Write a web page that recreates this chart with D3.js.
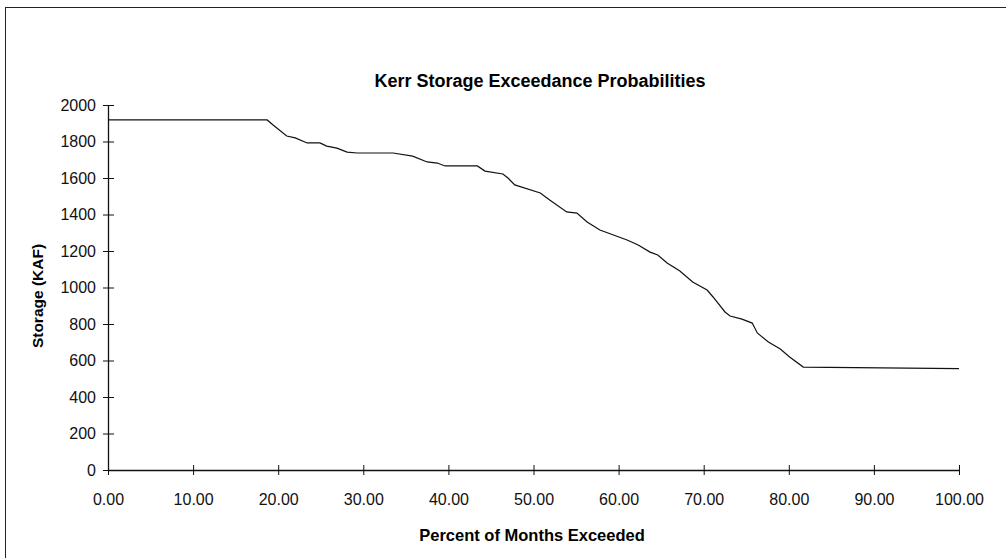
<!DOCTYPE html>
<html>
<head>
<meta charset="utf-8">
<script src="https://cdn.jsdelivr.net/npm/d3@7.9.0/dist/d3.min.js"></script>
<style>
  body { margin: 0; background: #fff; }
  svg { display: block; font-family: "Liberation Sans", Arial, sans-serif; }
</style>
</head>
<body>
<svg id="chart" width="1006" height="558"></svg>
<script>
// percent of months exceeded
const percents = [0, 18.7, 19.4, 21.0, 22.0, 23.4, 24.9, 25.7, 26.9, 28.1, 29.3, 33.5, 35.8, 37.5,
  38.7, 39.6, 43.4, 44.3, 46.4, 47.0, 47.8, 50.8, 51.9, 53.9, 55.1, 56.3, 57.8, 61.0, 62.3,
  63.7, 64.6, 65.7, 67.2, 68.7, 70.4, 71.1, 72.5, 73.1, 74.5, 75.7, 76.3, 77.6, 79.0, 80.1,
  81.7, 100];
// storage (KAF)
const storage = [1918, 1918, 1890, 1830, 1820, 1792, 1792, 1775, 1764, 1742, 1737, 1737, 1720, 1688,
  1682, 1666, 1666, 1638, 1622, 1600, 1562, 1518, 1479, 1414, 1408, 1359, 1315, 1260, 1233,
  1194, 1178, 1134, 1090, 1030, 986, 948, 866, 844, 827, 805, 751, 701, 663, 619,
  564, 556];
const xTicks = [0, 10, 20, 30, 40, 50, 60, 70, 80, 90, 100];
const yTicks = [0, 200, 400, 600, 800, 1000, 1200, 1400, 1600, 1800, 2000];

const svg = d3.select('#chart');

// outer frame
svg.append('rect')
  .attr('x', 5.5).attr('y', 7.5)
  .attr('width', 1010).attr('height', 560)
  .attr('fill', 'none').attr('stroke', '#222').attr('stroke-width', 1);

const x = d3.scaleLinear().domain([0, 100]).range([108, 959]);
const y = d3.scaleLinear().domain([0, 2000]).range([470, 105]);

// axes
let xAxis = svg.append('g').attr('transform', `translate(0,${y(0)})`)
  .call(d3.axisBottom(x).tickValues(xTicks).tickSize(0).tickFormat(d3.format('.2f')).tickPadding(24));
xAxis.select('.domain').attr('stroke', '#111').attr('stroke-width', 1.3);
xAxis.selectAll('.tick line').attr('y1', -5).attr('y2', 5).attr('stroke', '#111');
xAxis.selectAll('.tick text').attr('font-size', 16).attr('fill', '#111');

let yAxis = svg.append('g').attr('transform', `translate(${x(0)},0)`)
  .call(d3.axisLeft(y).tickValues(yTicks).tickSize(0).tickFormat(d3.format('d')).tickPadding(12));
yAxis.select('.domain').attr('stroke', '#111').attr('stroke-width', 1.3);
yAxis.selectAll('.tick line').attr('x1', -5).attr('x2', 6).attr('stroke', '#111');
yAxis.selectAll('.tick text').attr('font-size', 16).attr('fill', '#111');

// curve
let data = percents.map((p, i) => ({ p: p, s: storage[i] }));
let line = d3.line().x((d) => x(d.p)).y((d) => y(d.s));
svg.append('path')
  .datum(data)
  .attr('d', line)
  .attr('fill', 'none')
  .attr('stroke', '#111')
  .attr('stroke-width', 1.2);

// titles
svg.append('text')
  .attr('x', 540).attr('y', 87)
  .attr('text-anchor', 'middle')
  .attr('font-size', 18).attr('font-weight', 'bold')
  .text('Kerr Storage Exceedance Probabilities');

svg.append('text')
  .attr('x', 532).attr('y', 541)
  .attr('text-anchor', 'middle')
  .attr('font-size', 16.5).attr('font-weight', 'bold')
  .text('Percent of Months Exceeded');

svg.append('text')
  .attr('transform', 'translate(43,296) rotate(-90)')
  .attr('text-anchor', 'middle')
  .attr('font-size', 15.5).attr('font-weight', 'bold')
  .text('Storage (KAF)');
</script>
</body>
</html>
